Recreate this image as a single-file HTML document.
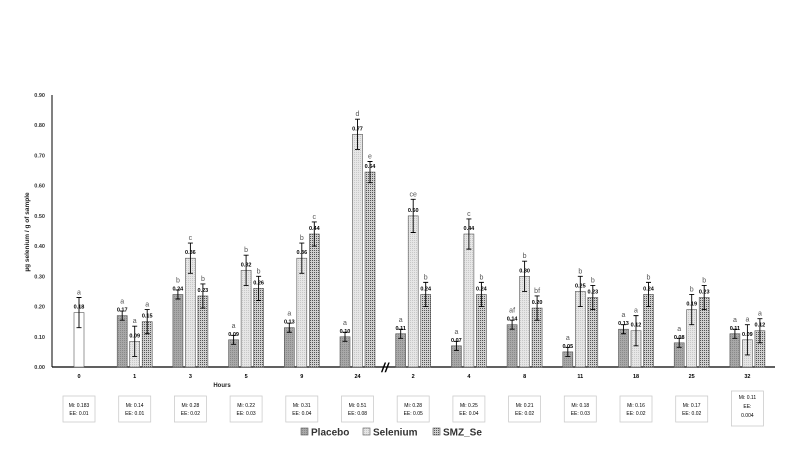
<!DOCTYPE html>
<html><head><meta charset="utf-8"><style>
body{margin:0;background:#fff;font-family:"Liberation Sans",sans-serif}
svg text{font-family:"Liberation Sans",sans-serif}
</style></head><body>
<svg id="c" width="800" height="450" xmlns="http://www.w3.org/2000/svg">
<defs>
<pattern id="pP" width="2" height="2" patternUnits="userSpaceOnUse"><rect width="2" height="2" fill="#a8a8a8"/><rect width="1" height="1" fill="#8a8a8a"/></pattern>
<pattern id="pS" width="2" height="2" patternUnits="userSpaceOnUse"><rect width="2" height="2" fill="#e6e6e6"/><rect width="1" height="1" fill="#c8c8c8"/></pattern>
<pattern id="pZ" width="2" height="2" patternUnits="userSpaceOnUse"><rect width="2" height="2" fill="#d0d0d0"/><rect width="1" height="1" fill="#555"/></pattern>
</defs>
<g id="plot"></g>
</svg>
<script>
const hours=["0","1","3","5","9","24","2","4","8","11","18","25","32"];
const placebo=[null,0.17,0.24,0.09,0.13,0.10,0.11,0.07,0.14,0.05,0.125,0.08,0.11];
const placeboErr=[null,0.015,0.015,0.015,0.015,0.015,0.015,0.015,0.015,0.015,0.015,0.015,0.015];
const selenium=[0.18,0.085,0.36,0.32,0.36,0.77,0.50,0.44,0.30,0.25,0.12,0.19,0.09];
const seleniumErr=[0.05,0.05,0.05,0.05,0.05,0.05,0.055,0.05,0.05,0.05,0.05,0.05,0.05];
const smz=[null,0.15,0.235,0.26,0.44,0.645,0.24,0.24,0.195,0.23,0.24,0.23,0.12];
const smzErr=[null,0.04,0.04,0.04,0.04,0.035,0.04,0.04,0.04,0.04,0.04,0.04,0.04];
const placeboLbl=["","0.17","0.24","0.09","0.13","0.10","0.11","0.07","0.14","0.05","0.13","0.08","0.11"];
const seleniumLbl=["0.18","0.09","0.36","0.32","0.36","0.77","0.50","0.44","0.30","0.25","0.12","0.19","0.09"];
const smzLbl=["","0.15","0.23","0.26","0.44","0.64","0.24","0.24","0.20","0.23","0.24","0.23","0.12"];
const placeboLet=["","a","b","a","a","a","a","a","af","a","a","a","a"];
const seleniumLet=["a","a","c","b","b","d","ce","c","b","b","a","b","a"];
const smzLet=["","a","b","b","c","e","b","b","bf","b","b","b","a"];
const yTicks=[0,0.1,0.2,0.3,0.4,0.5,0.6,0.7,0.8,0.9];
const boxM=["0.183","0.14","0.28","0.22","0.31","0.51","0.28","0.25","0.21","0.18","0.16","0.17","0.11"];
const boxE=["0.01","0.01","0.02","0.03","0.04","0.08","0.05","0.04","0.02","0.03","0.02","0.02","0.004"];
const NS="http://www.w3.org/2000/svg";
const g=document.getElementById('plot');
const y=v=>367-v/0.9*272;
const xc=i=>79+i*55.7;
function mk(t,a,txt){const e=document.createElementNS(NS,t);for(const k in a)e.setAttribute(k,a[k]);if(txt!=null)e.textContent=txt;g.appendChild(e);return e;}
let e=mk('line',{x1:52,y1:95,x2:52,y2:367,stroke:'#000','stroke-width':1});

e=mk('line',{x1:52,y1:367,x2:775,y2:367,stroke:'#000','stroke-width':1.2});

yTicks.forEach(t=>{e=mk('text',{x:45,y:y(t)+2,'font-size':5.5,'font-weight':'bold','text-anchor':'end',fill:'#333'},t.toFixed(2));
});
e=mk('text',{x:0,y:0,'font-size':6.5,'font-weight':'bold',transform:'translate(29,232) rotate(-90)','text-anchor':'middle',fill:'#222'},'µg selenium / g of sample');

e=mk('text',{x:222,y:387,'font-size':6,'font-weight':'bold','text-anchor':'middle',fill:'#222'},'Hours');

e=mk('text',{x:385,y:372,'font-size':13,'font-style':'italic','font-weight':'bold','text-anchor':'middle'},'//');

function bar(cx,v,err,fill,lbl,let,name){
  if(v==null)return;
  const w=10,x0=cx-w/2,top=y(v);
  let r=mk('rect',{x:x0,y:top,width:w,height:367-top,fill:fill,stroke:'#555','stroke-width':0.6});
  
  const t1=y(v+err),t2=y(v-err);
  r=mk('path',{d:`M${cx},${t1}V${t2}M${cx-2.5},${t1}H${cx+2.5}M${cx-2.5},${t2}H${cx+2.5}`,stroke:'#000','stroke-width':0.9,fill:'none'});
  
  r=mk('text',{x:cx,y:top-4,'font-size':5.5,'font-weight':'bold','text-anchor':'middle'},lbl);
  
  r=mk('text',{x:cx,y:Math.min(t1-3,top-12),'font-size':7,'text-anchor':'middle',fill:'#555'},let);
  
}
hours.forEach((h,i)=>{
  const c=xc(i);
  if(i===0){bar(c,selenium[0],seleniumErr[0],'#fff',seleniumLbl[0],seleniumLet[0],'bar-baseline');}
  else{
    bar(c-12.5,placebo[i],placeboErr[i],'url(#pP)',placeboLbl[i],placeboLet[i],'bar-placebo');
    bar(c,selenium[i],seleniumErr[i],'url(#pS)',seleniumLbl[i],seleniumLet[i],'bar-selenium');
    bar(c+12.5,smz[i],smzErr[i],'url(#pZ)',smzLbl[i],smzLet[i],'bar-smz-se');
  }
  let t=mk('text',{x:c,y:378,'font-size':5.5,'font-weight':'bold','text-anchor':'middle'},h);
  
  const last=i===hours.length-1;
  const by=last?391:396,bh=last?35:26;
  t=mk('rect',{x:c-16,y:by,width:32,height:bh,fill:'#fff',stroke:'#ccc','stroke-width':0.8});
  
  if(last){
    t=mk('text',{x:c,y:by+8,'font-size':5,'text-anchor':'middle'},'Mi: '+boxM[i]);
    t=mk('text',{x:c,y:by+17,'font-size':5,'text-anchor':'middle'},'EE:');
    t=mk('text',{x:c,y:by+26,'font-size':5,'text-anchor':'middle'},boxE[i]);
  }else{
    t=mk('text',{x:c,y:by+11,'font-size':5,'text-anchor':'middle'},'Mi: '+boxM[i]);
    t=mk('text',{x:c,y:by+19,'font-size':5,'text-anchor':'middle'},'EE: '+boxE[i]);
  }
});
const leg=[['Placebo','url(#pP)',301],['Selenium','url(#pS)',363],['SMZ_Se','url(#pZ)',433]];
leg.forEach(l=>{
  let r=mk('rect',{x:l[2],y:428,width:7,height:7,fill:l[1],stroke:'#555','stroke-width':0.6});
  
  r=mk('text',{x:l[2]+10,y:435.5,'font-size':10,'font-weight':'bold',fill:'#333'},l[0]);
  
});
</script>
</body></html>
